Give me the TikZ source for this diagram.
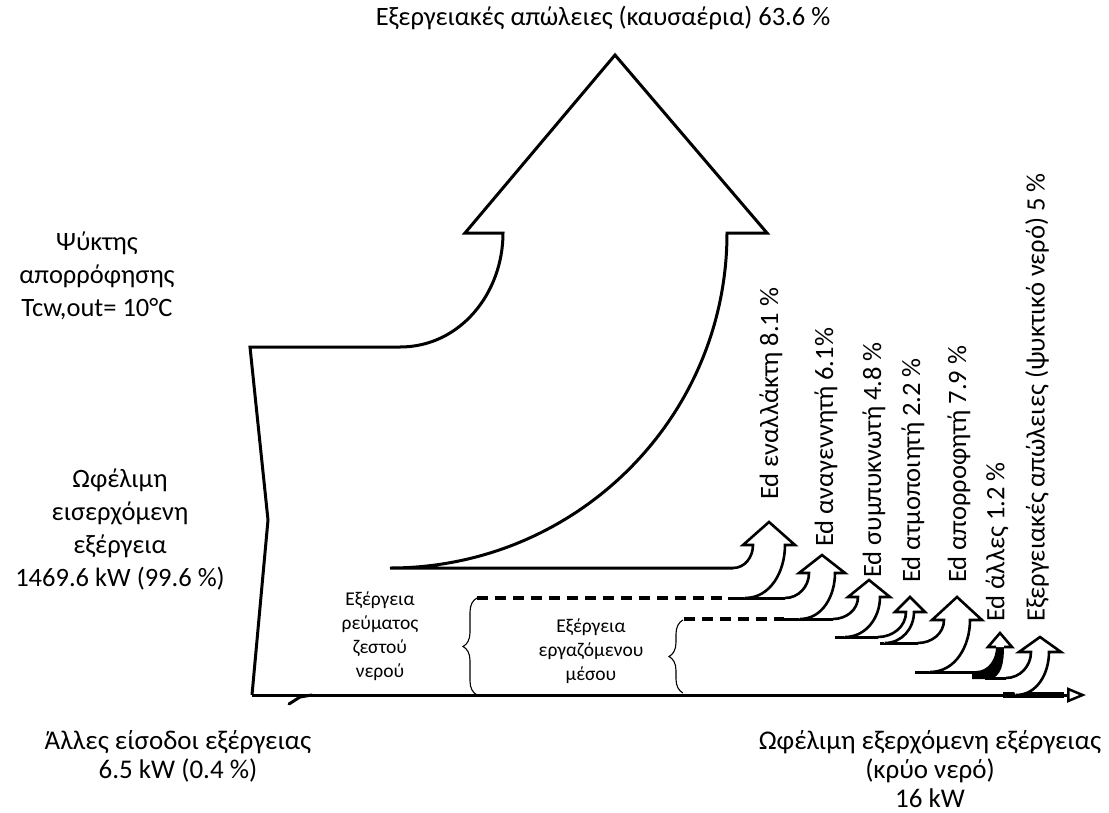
\documentclass[tikz,border=0pt]{standalone}
\usepackage{fontspec}
\setmainfont{Carlito}
\usepackage{tikz}
\usetikzlibrary{arrows.meta, decorations.pathreplacing}

\tikzset{
  flowline/.style={line width=3pt, line join=miter},
  edflow/.style={line width=2.6pt, line join=miter, fill=white},
  dashflow/.style={line width=3.5pt, dash pattern=on 11pt off 7pt},
  bracket/.style={decorate, decoration={brace, amplitude=14pt}, line width=1.1pt},
  lbl/.style={font=\fontsize{26.5}{33}\selectfont, align=center, inner sep=0pt},
  lowlbl/.style={font=\fontsize{27}{29}\selectfont, align=center, inner sep=0pt},
  smalllbl/.style={font=\fontsize{19.5}{24}\selectfont, align=center, inner sep=0pt},
  edlbl/.style={font=\fontsize{26.5}{30}\selectfont, rotate=90, anchor=west, inner sep=0pt}
}

% #1 inner start x, #2 top y, #3 outer end x, #4 bottom y,
% #5 head centre x, #6 head base y, #7 apex y, #8 head half width, #9 stem half width
\newcommand{\edarrow}[9]{%
  \draw[edflow] (#1,-#2) to[out=0,in=-90] ({#5-#9},-#6) -- ({#5-#8},-#6) -- (#5,-#7)
    -- ({#5+#8},-#6) -- ({#5+#9},-#6) to[out=-90,in=0] (#3,-#4);}

\begin{document}
\begin{tikzpicture}[x=1pt, y=1pt]
  \useasboundingbox (0,0) rectangle (1109,-812);

  % big arrow (exhaust gases)
  \draw[flowline] (252,-695) -- (268,-520) -- (250,-347) -- (400,-347)
    to[out=0,in=-90] (503,-233) -- (465,-233) -- (615,-55) -- (767,-233) -- (727,-233)
    to[out=-90,in=0] (390,-568) -- (733,-568);

  % bottom line and the small inlet tick
  \draw[flowline, -{Triangle[open, length=19pt, width=15pt, line width=2.5pt]}] (252,-695) -- (1086,-695);
  \draw[line width=6pt] (1003,-695) -- (1064,-695);
  \draw[line width=3pt, line cap=round] (289,-704) -- (300,-697) -- (312,-695);

  % streams between the destructions
  \draw[dashflow] (477,-598) -- (728,-598);
  \draw[flowline] (728,-598) -- (785,-598);
  \draw[dashflow] (684,-619) -- (784,-619);
  \draw[flowline] (784,-619) -- (833,-619);
  \draw[flowline] (835,-637) -- (878,-637);
  \draw[flowline] (880,-643) -- (918,-643);
  \draw[flowline] (915,-672) -- (976,-672);
  \fill (972,-671) -- (976,-671) to[out=0,in=-90] (996,-647) -- (1004,-647)
    to[out=-90,in=0] (988,-679) -- (972,-679) -- cycle;
  \draw[flowline] (985,-678) -- (1006,-678);

  % exergy destruction arrows
  \edarrow{733}{568}{745}{598}{769}{545}{522}{26}{16}
  \edarrow{785}{598}{800}{619}{822}{573}{555}{23}{13}
  \edarrow{833}{619}{845}{637}{869}{597}{580}{21}{11}
  \edarrow{878}{637}{885}{643}{910}{612}{597}{15}{4}
  \edarrow{918}{643}{930}{672}{957}{620}{597}{25}{13}
  \draw[edflow] (996,-647) -- (988,-647) -- (1000,-633) -- (1012,-647) -- (1004,-647);
  \edarrow{1006}{678}{1016}{695}{1040}{652}{637}{21}{9}

  % braces
  \draw[bracket] (477,-695) -- (477,-598);
  \draw[bracket] (683,-693) -- (683,-620);

  % labels
  \node[lbl] (title) at (603,-18) {Εξεργειακές απώλειες (καυσαέρια) 63.6 \%};
  \node[lbl] (chiller) at (97,-276) {Ψύκτης\\απορρόφησης\\Tcw,out= 10°C};
  \node[lbl] (inflow) at (120,-529) {Ωφέλιμη\\εισερχόμενη\\εξέργεια\\1469.6 kW (99.6 \%)};
  \node[lowlbl] (other) at (178,-756) {Άλλες είσοδοι εξέργειας\\6.5 kW (0.4 \%)};
  \node[lowlbl] (outflow) at (930,-769) {Ωφέλιμη εξερχόμενη εξέργειας\\(κρύο νερό)\\16 kW};
  \node[smalllbl] (hotwater) at (380,-636) {Εξέργεια\\ρεύματος\\ζεστού\\νερού};
  \node[smalllbl] (workfluid) at (591,-651) {Εξέργεια\\εργαζόμενου\\μέσου};

  \node[edlbl] (ed1) at (771,-500) {Ed εναλλάκτη 8.1 \%};
  \node[edlbl] (ed2) at (826,-547) {Ed αναγεννητή 6.1\%};
  \node[edlbl] (ed3) at (874,-578) {Ed συμπυκνωτή 4.8 \%};
  \node[edlbl] (ed4) at (913,-583) {Ed ατμοποιητή 2.2 \%};
  \node[edlbl] (ed5) at (959,-583) {Ed απορροφητή 7.9 \%};
  \node[edlbl] (ed6) at (997,-622) {Ed άλλες 1.2 \%};
  \node[edlbl] (ed7) at (1037,-622) {Εξεργειακές απώλειες (ψυκτικό νερό) 5 \%};
\end{tikzpicture}
\end{document}
